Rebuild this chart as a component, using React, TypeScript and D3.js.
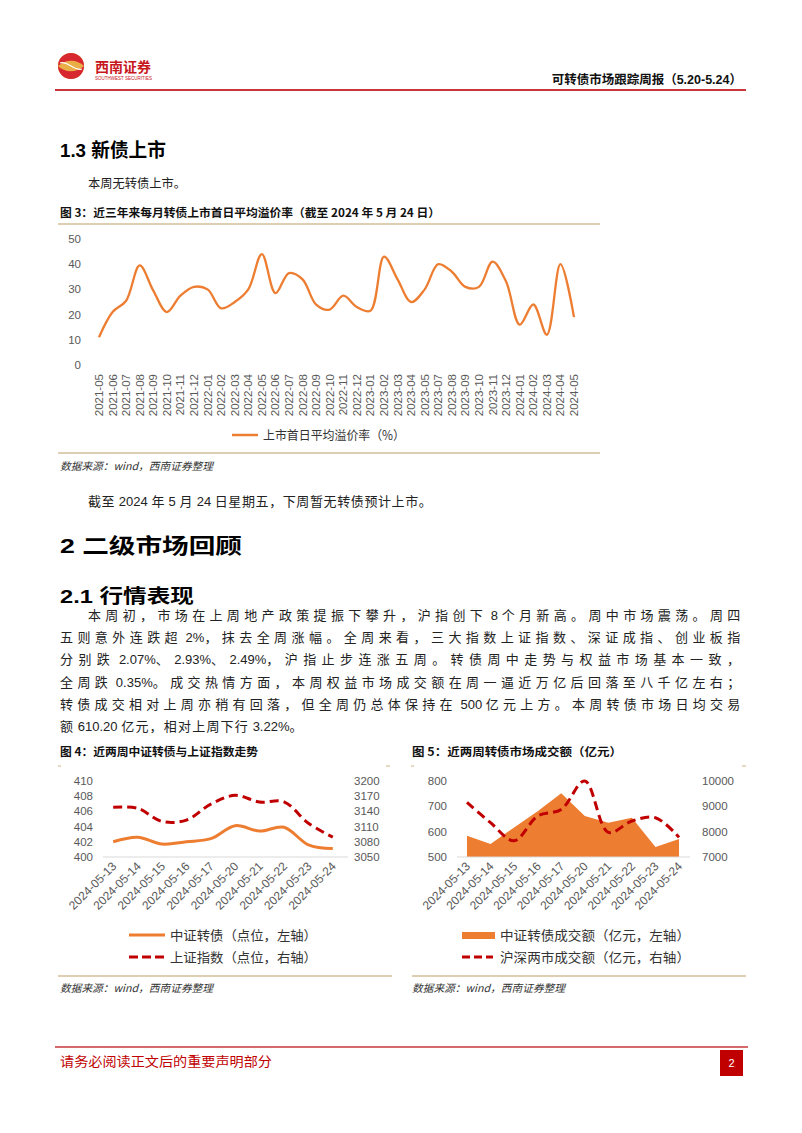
import React from "react";
import * as d3 from "d3";

// 图3 每月转债上市首日平均溢价率（%）
const premiumMonths = [
  "2021-05", "2021-06", "2021-07", "2021-08", "2021-09", "2021-10", "2021-11", "2021-12",
  "2022-01", "2022-02", "2022-03", "2022-04", "2022-05", "2022-06", "2022-07", "2022-08",
  "2022-09", "2022-10", "2022-11", "2022-12", "2023-01", "2023-02", "2023-03", "2023-04",
  "2023-05", "2023-07", "2023-08", "2023-09", "2023-10", "2023-11", "2023-12", "2024-01",
  "2024-02", "2024-03", "2024-04", "2024-05",
];
const premiumValues = [
  11, 21, 25.5, 39.5, 29.5, 21, 27.5, 31, 30, 22.5, 25, 30, 44, 28.5, 36.5, 34,
  24, 22, 27.5, 23, 21.5, 43, 34, 25, 30, 40, 37, 31, 31, 41, 33, 16,
  24, 12, 40, 19,
];
const premiumTicks = [0, 10, 20, 30, 40, 50];

// 图4 / 图5 近两周
const weekDates = [
  "2024-05-13", "2024-05-14", "2024-05-15", "2024-05-16", "2024-05-17",
  "2024-05-20", "2024-05-21", "2024-05-22", "2024-05-23", "2024-05-24",
];
const cbIndex = [402.0, 402.6, 401.7, 402.0, 402.4, 404.1, 403.4, 403.9, 401.6, 401.1];
const shIndex = [3148.0, 3145.8, 3119.9, 3122.4, 3154.0, 3171.2, 3158.0, 3158.5, 3116.4, 3088.9];
const cbTicks = [400, 402, 404, 406, 408, 410];
const shTicks = [3050, 3080, 3110, 3140, 3170, 3200];

const cbTurnover = [584, 551, 616, 680, 751, 661, 635, 654, 539, 571];
const marketTurnover = [9150, 8350, 7640, 8610, 8870, 9990, 7965, 8416, 8545, 7772];
const cbTurnTicks = [500, 600, 700, 800];
const mktTurnTicks = [7000, 8000, 9000, 10000];

const paraLines = [
  "本周初，市场在上周地产政策提振下攀升，沪指创下 8 个月新高。周中市场震荡。周四",
  "五则意外连跌超 2%，抹去全周涨幅。全周来看，三大指数上证指数、深证成指、创业板指",
  "分别跌 2.07%、2.93%、2.49%，沪指止步连涨五周。转债周中走势与权益市场基本一致，",
  "全周跌 0.35%。成交热情方面，本周权益市场成交额在周一逼近万亿后回落至八千亿左右；",
  "转债成交相对上周亦稍有回落，但全周仍总体保持在 500 亿元上方。本周转债市场日均交易",
  "额 610.20 亿元，相对上周下行 3.22%。",
];

const ORANGE = "#ED7D31";
const DARKRED = "#C00000";
const TAN = "#D5BF98";
const AXIS = "#595959";
const LATIN = '"Liberation Sans", Arial, "Noto Sans CJK SC", sans-serif';
const CJK = '"Noto Sans CJK SC", "Liberation Sans", sans-serif';

const smooth = d3.curveCatmullRom.alpha(0.5);

// widths of Liberation Sans glyphs (em) used in the body text
const latinW: Record<string, number> = { " ": 0.278, ".": 0.278, "%": 0.889, "-": 0.333 };
const isWide = (c: string) => /[\u3000-\u9fff\uff00-\uffef]/.test(c);

function splitRuns(t: string) {
  const runs: { t: string; wide: boolean }[] = [];
  for (const c of t) {
    const w = isWide(c);
    const last = runs[runs.length - 1];
    if (last && last.wide === w) last.t += c;
    else runs.push({ t: c, wide: w });
  }
  return runs;
}

// spaced CJK text with natural Latin runs, justified to a target width
function SpacedLine({ x, y, text, size, width, spacing }: { x: number; y: number; text: string; size: number; width?: number; spacing?: number }) {
  const runs = splitRuns(text);
  let natural = 0;
  let nWide = 0;
  for (const c of text) {
    if (isWide(c)) {
      natural += size;
      nWide += 1;
    } else natural += (latinW[c] ?? 0.556) * size;
  }
  const ls = width !== undefined ? (width - natural) / Math.max(1, nWide - 0.6) : spacing ?? 0;
  return (
    <text x={x} y={y} fontFamily={LATIN} fontSize={size} fill="#222">
      {runs.map((r, i) => (
        <tspan key={i} letterSpacing={r.wide ? ls : 0}>
          {r.wide ? r.t : r.t.replace(/ /g, "\u00a0")}
        </tspan>
      ))}
    </text>
  );
}

function SourceNote({ x, y }: { x: number; y: number }) {
  return (
    <text x={x} y={y} fontFamily={CJK} fontSize={10.5} fontStyle="italic" fill="#333" textLength={153} lengthAdjust="spacingAndGlyphs">
      数据来源：wind，西南证券整理
    </text>
  );
}

function PremiumChart() {
  const x = d3.scalePoint<string>().domain(premiumMonths).range([99, 574]);
  const y = d3.scaleLinear().domain([0, 50]).range([365, 239]);
  const line = d3
    .line<number>()
    .x((_, i) => x(premiumMonths[i]) as number)
    .y((d) => y(d))
    .curve(smooth);

  return (
    <g>
      <line x1={58} x2={600} y1={224} y2={224} stroke={TAN} strokeWidth={1.5} />
      {premiumTicks.map((t) => (
        <text key={t} x={81} y={y(t)} dy="0.35em" textAnchor="end" fontFamily={LATIN} fontSize={11.5} fill={AXIS}>
          {t}
        </text>
      ))}
      <path d={line(premiumValues) || ""} fill="none" stroke={ORANGE} strokeWidth={2.3} />
      {premiumMonths.map((m) => (
        <text
          key={m}
          transform={`translate(${x(m)},374) rotate(-90)`}
          dy="0.35em"
          textAnchor="end"
          fontFamily={LATIN}
          fontSize={11.5}
          fill={AXIS}
        >
          {m}
        </text>
      ))}
      <line x1={232} x2={258} y1={435} y2={435} stroke={ORANGE} strokeWidth={2.5} />
      <text x={263} y={439.5} fontFamily={CJK} fontSize={12.5} fill="#333" textLength={142} lengthAdjust="spacingAndGlyphs">
        上市首日平均溢价率（%）
      </text>
      <line x1={58} x2={600} y1={453} y2={453} stroke={TAN} strokeWidth={1.5} />
      <SourceNote x={60} y={470} />
    </g>
  );
}

function IndexChart() {
  const x = d3.scalePoint<string>().domain(weekDates).range([101, 345]).padding(0.5);
  const yL = d3.scaleLinear().domain([400, 410]).range([857, 780.7]);
  const yR = d3.scaleLinear().domain([3050, 3200]).range([857, 780.7]);
  const lineL = d3
    .line<number>()
    .x((_, i) => x(weekDates[i]) as number)
    .y((d) => yL(d))
    .curve(smooth);
  const lineR = d3
    .line<number>()
    .x((_, i) => x(weekDates[i]) as number)
    .y((d) => yR(d))
    .curve(smooth);

  return (
    <g>
      <text x={60} y={756} fontFamily={CJK} fontWeight="bold" fontSize={11.5} fill="#111" textLength={198} lengthAdjust="spacingAndGlyphs">
        图 4：近两周中证转债与上证指数走势
      </text>
      <line x1={58} x2={61} y1={766} y2={766} stroke={TAN} strokeWidth={1.2} />
      <line x1={386} x2={390} y1={766} y2={766} stroke={TAN} strokeWidth={1.2} />
      {cbTicks.map((t) => (
        <text key={t} x={93} y={yL(t)} dy="0.35em" textAnchor="end" fontFamily={LATIN} fontSize={11.5} fill={AXIS}>
          {t}
        </text>
      ))}
      {shTicks.map((t) => (
        <text key={t} x={354} y={yR(t)} dy="0.35em" textAnchor="start" fontFamily={LATIN} fontSize={11.5} fill={AXIS}>
          {t}
        </text>
      ))}
      <line x1={103} x2={348} y1={857} y2={857} stroke="#D9D9D9" strokeWidth={1} />
      <path d={lineR(shIndex) || ""} fill="none" stroke={DARKRED} strokeWidth={3} strokeDasharray="9,5" />
      <path d={lineL(cbIndex) || ""} fill="none" stroke={ORANGE} strokeWidth={3} />
      {weekDates.map((d) => (
        <text
          key={d}
          transform={`translate(${(x(d) as number) + 4},867) rotate(-45)`}
          textAnchor="end"
          fontFamily={LATIN}
          fontSize={12}
          fill={AXIS}
        >
          {d}
        </text>
      ))}
      <line x1={129} x2={165} y1={935} y2={935} stroke={ORANGE} strokeWidth={3} />
      <text x={170} y={940} fontFamily={CJK} fontSize={13} fill="#333" textLength={147} lengthAdjust="spacingAndGlyphs">
        中证转债（点位，左轴）
      </text>
      <line x1={129} x2={165} y1={957} y2={957} stroke={DARKRED} strokeWidth={3} strokeDasharray="9,4" />
      <text x={170} y={962} fontFamily={CJK} fontSize={13} fill="#333" textLength={147} lengthAdjust="spacingAndGlyphs">
        上证指数（点位，右轴）
      </text>
      <line x1={58} x2={392} y1={976} y2={976} stroke={TAN} strokeWidth={1.5} />
      <SourceNote x={60} y={992} />
    </g>
  );
}

function TurnoverChart() {
  const x = d3.scalePoint<string>().domain(weekDates).range([455.2, 690.8]).padding(0.5);
  const yL = d3.scaleLinear().domain([500, 800]).range([857, 780.7]);
  const yR = d3.scaleLinear().domain([7000, 10000]).range([857, 780.7]);
  const area = d3
    .area<number>()
    .x((_, i) => x(weekDates[i]) as number)
    .y0(yL(500))
    .y1((d) => yL(d));
  const lineR = d3
    .line<number>()
    .x((_, i) => x(weekDates[i]) as number)
    .y((d) => yR(d))
    .curve(smooth);

  return (
    <g>
      <text x={412} y={756} fontFamily={CJK} fontWeight="bold" fontSize={11.5} fill="#111" textLength={210} lengthAdjust="spacingAndGlyphs">
        图 5：近两周转债市场成交额（亿元）
      </text>
      <line x1={411} x2={414} y1={766} y2={766} stroke={TAN} strokeWidth={1.2} />
      <line x1={742} x2={746} y1={766} y2={766} stroke={TAN} strokeWidth={1.2} />
      {cbTurnTicks.map((t) => (
        <text key={t} x={447} y={yL(t)} dy="0.35em" textAnchor="end" fontFamily={LATIN} fontSize={11.5} fill={AXIS}>
          {t}
        </text>
      ))}
      {mktTurnTicks.map((t) => (
        <text key={t} x={702} y={yR(t)} dy="0.35em" textAnchor="start" fontFamily={LATIN} fontSize={11.5} fill={AXIS}>
          {t}
        </text>
      ))}
      <path d={area(cbTurnover) || ""} fill={ORANGE} />
      <line x1={457} x2={690} y1={857} y2={857} stroke="#D9D9D9" strokeWidth={1} />
      <path d={lineR(marketTurnover) || ""} fill="none" stroke={DARKRED} strokeWidth={3} strokeDasharray="9,5" />
      {weekDates.map((d) => (
        <text
          key={d}
          transform={`translate(${(x(d) as number) + 4},867) rotate(-45)`}
          textAnchor="end"
          fontFamily={LATIN}
          fontSize={12}
          fill={AXIS}
        >
          {d}
        </text>
      ))}
      <rect x={462} y={932} width={33} height={7} fill={ORANGE} />
      <text x={500} y={940} fontFamily={CJK} fontSize={13} fill="#333" textLength={190} lengthAdjust="spacingAndGlyphs">
        中证转债成交额（亿元，左轴）
      </text>
      <line x1={462} x2={493} y1={957} y2={957} stroke={DARKRED} strokeWidth={3} strokeDasharray="8,4" />
      <text x={500} y={962} fontFamily={CJK} fontSize={13} fill="#333" textLength={190} lengthAdjust="spacingAndGlyphs">
        沪深两市成交额（亿元，右轴）
      </text>
      <line x1={412} x2={746} y1={976} y2={976} stroke={TAN} strokeWidth={1.5} />
      <SourceNote x={412} y={992} />
    </g>
  );
}

function Header() {
  return (
    <g>
      <circle cx={71} cy={66} r={13} fill="#E9AE45" />
      <path d="M58,66 A13,13 0 0 1 84,66 C78,60 67,58 58,66 Z" fill="#D7282F" />
      <path d="M84,66 A13,13 0 0 1 58,66 C64,72 75,74 84,66 Z" fill="#D7282F" />
      <path d="M60,63 C67,60 75,72 82,69" fill="none" stroke="#fff" strokeWidth={1.2} />
      <text x={95} y={72} fontFamily={CJK} fontWeight="bold" fontSize={14} fill="#C8161D" textLength={56} lengthAdjust="spacingAndGlyphs">
        西南证券
      </text>
      <text x={95} y={80} fontFamily={LATIN} fontSize={5} fill="#C8161D" textLength={57} lengthAdjust="spacingAndGlyphs">
        SOUTHWEST SECURITIES
      </text>
      <text x={742} y={84} textAnchor="end" fontFamily={LATIN} fontWeight="bold" fontSize={12.5} fill="#111">
        可转债市场跟踪周报（5.20-5.24）
      </text>
      <line x1={55} x2={746} y1={90} y2={90} stroke="#C8373A" strokeWidth={1.8} />
    </g>
  );
}

function Footer() {
  return (
    <g>
      <line x1={55} x2={748} y1={1047} y2={1047} stroke="#C8373A" strokeWidth={1.5} />
      <text x={60} y={1066} fontFamily={CJK} fontSize={13} fill={DARKRED} textLength={212} lengthAdjust="spacingAndGlyphs">
        请务必阅读正文后的重要声明部分
      </text>
      <rect x={720} y={1050} width={23} height={26} fill="#C00000" />
      <text x={731.5} y={1067} textAnchor="middle" fontFamily={LATIN} fontSize={11} fill="#fff">
        2
      </text>
    </g>
  );
}

export default function App() {
  return (
    <div style={{ position: "absolute", left: 0, top: 0, width: 802, height: 1133, background: "#fff" }}>
      <svg width={802} height={1133} viewBox="0 0 802 1133" style={{ display: "block" }}>
        <rect width={802} height={1133} fill="#fff" />
        <Header />

        <text x={60} y={157} fontFamily={LATIN} fontWeight="bold" fontSize={19} fill="#000" textLength={106} lengthAdjust="spacingAndGlyphs">
          1.3 新债上市
        </text>
        <text x={88} y={188} fontFamily={CJK} fontSize={12.5} fill="#222" textLength={98} lengthAdjust="spacingAndGlyphs">
          本周无转债上市。
        </text>
        <text x={60} y={217} fontFamily={CJK} fontWeight="bold" fontSize={11.5} fill="#111" textLength={380} lengthAdjust="spacingAndGlyphs">
          图 3：近三年来每月转债上市首日平均溢价率（截至 2024 年 5 月 24 日）
        </text>
        <PremiumChart />

        <SpacedLine x={88} y={506} size={13} width={344} text="截至 2024 年 5 月 24 日星期五，下周暂无转债预计上市。" />
        <text x={60} y={553} fontFamily={LATIN} fontWeight="bold" fontSize={21} fill="#000" textLength={182} lengthAdjust="spacingAndGlyphs">
          2  二级市场回顾
        </text>
        <text x={60} y={603} fontFamily={LATIN} fontWeight="bold" fontSize={19} fill="#000" textLength={134} lengthAdjust="spacingAndGlyphs">
          2.1 行情表现
        </text>
        {paraLines.map((t, i) => {
          const x0 = i === 0 ? 88 : 60;
          const full = i < paraLines.length - 1;
          return (
            <SpacedLine
              key={i}
              x={x0}
              y={620 + i * 22.2}
              size={13}
              text={t}
              width={full ? 742 - x0 : undefined}
              spacing={1.2}
            />
          );
        })}

        <IndexChart />
        <TurnoverChart />
        <Footer />
      </svg>
    </div>
  );
}
